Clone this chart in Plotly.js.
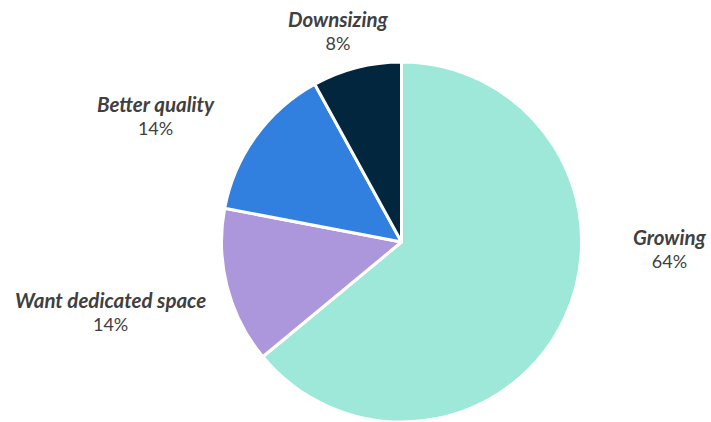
<!DOCTYPE html>
<html>
<head>
<meta charset="utf-8">
<script src="https://cdn.plot.ly/plotly-3.0.1.min.js"></script>
<style>html,body{margin:0;padding:0;background:#fff;}#chart{width:711px;height:422px;}</style>
</head>
<body>
<div id="chart"></div>
<script>
const categories = ["Growing", "Want dedicated space", "Better quality", "Downsizing"];
const values = [64, 14, 14, 8];
const colors = ["#9de8d8", "#ad97dc", "#3180e0", "#01263e"];

const W = 711, H = 422, mt = 62, mb = 0;
// label centers in pixels (label layout, not data)
const labelPos = [[670, 249], [110, 311], [156, 115], [338, 30]];
const total = values.reduce((a, b) => a + b, 0);
const ph = H - mt - mb;
const annotations = categories.map((c, i) => ({
  xref: "paper", yref: "paper",
  x: labelPos[i][0] / W,
  y: (H - mb - labelPos[i][1]) / ph,
  xanchor: "center", yanchor: "middle",
  showarrow: false,
  text: "<span style='font-size:20.5px'><b><i>" + c + "</i></b></span><br>" + Math.round(values[i] / total * 100) + "%",
  font: {family: "Lato, 'Open Sans', sans-serif", size: 18, color: "#404040"},
  align: "center"
}));

const trace = {
  type: "pie",
  labels: categories,
  values: values,
  sort: false,
  direction: "clockwise",
  rotation: 0,
  marker: {colors: colors, line: {color: "#ffffff", width: 3}},
  textinfo: "none",
  hoverinfo: "label+percent",
  domain: {x: [0.3, 0.8294], y: [0, 1]}
};

Plotly.newPlot("chart", [trace], {
  width: W, height: H,
  margin: {l: 0, r: 0, t: mt, b: mb},
  showlegend: false,
  paper_bgcolor: "#ffffff",
  annotations: annotations
}, {displayModeBar: false});
</script>
</body>
</html>
